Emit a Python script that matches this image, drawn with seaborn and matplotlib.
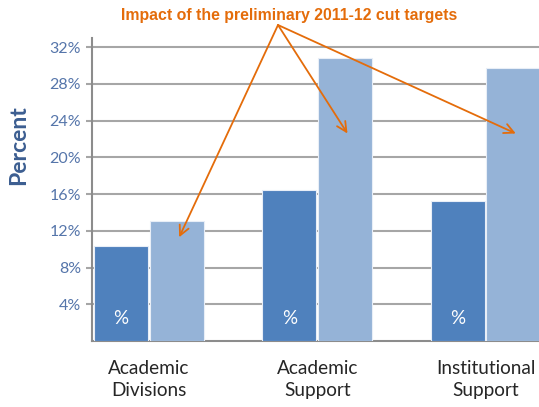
import pandas as pd
import numpy as np
import matplotlib
matplotlib.use("Agg")
import matplotlib.pyplot as plt
import seaborn as sns

# ==========================================
# DATA
# ==========================================

areas = ["Academic\nDivisions", "Academic\nSupport", "Institutional\nSupport"]
series = ["Current share", "Preliminary 2011-12 cut target"]
current_pct = [10.4, 16.4, 15.2]
target_pct = [13.1, 30.8, 29.7]

y_ticks = [4, 8, 12, 16, 20, 24, 28, 32]
y_tick_labels = ["4%", "8%", "12%", "16%", "20%", "24%", "28%", "32%"]

# arrow tip heights (percent) for the annotation
arrow_tip_pct = [11.3, 22.6, 22.6]

df = pd.DataFrame({
    "area": areas * 2,
    "series": [series[0]] * 3 + [series[1]] * 3,
    "pct": current_pct + target_pct
})

# ==========================================
# STYLE
# ==========================================

sns.set_style("white")
plt.rcParams["font.family"] = ["Lato", "DejaVu Sans"]

dark_blue = "#4F81BD"
light_blue = "#95B3D7"
orange = "#E46C0A"
grid_grey = "#A6A6A6"

# ==========================================
# PLOT
# ==========================================

fig = plt.figure(figsize=(5.39, 4.07), dpi=100)
ax = fig.add_axes([92 / 539, 66 / 407, 447 / 539, 303 / 407])

sns.barplot(
    data=df,
    x="area",
    y="pct",
    hue="series",
    palette=[dark_blue, light_blue],
    saturation=1,
    width=0.66,
    gap=0.03,
    edgecolor="#E8EEF7",
    linewidth=0.8,
    legend=False,
    ax=ax,
    zorder=3
)

ax.set_ylim(0, 33)
ax.set_xlim(-0.338, 2.318)

ax.set_yticks(y_ticks)
ax.set_yticklabels(y_tick_labels)
ax.yaxis.grid(True, color=grid_grey, linewidth=1.5, zorder=0)
ax.set_axisbelow(True)

for side in ["top", "right"]:
    ax.spines[side].set_visible(False)
ax.spines["left"].set_color("#8C8C8C")
ax.spines["left"].set_linewidth(1.5)
ax.spines["bottom"].set_color("#8C8C8C")
ax.spines["bottom"].set_linewidth(1.5)

ax.tick_params(axis="y", length=4, width=1.5, color=grid_grey,
               labelsize=11.5, labelcolor="#5575AA", pad=4, left=True)
ax.tick_params(axis="x", length=0, labelsize=13.7, labelcolor="#262626", pad=14)
for lbl in ax.get_xticklabels():
    lbl.set_linespacing(1.3)

ax.set_xlabel("")
ax.set_ylabel("Percent", fontsize=16.5, fontweight="bold", color="#3C5E91")
ax.yaxis.set_label_coords(-0.14, 0.647)

# "%" markers in the dark bars
for patch in ax.containers[0]:
    ax.text(patch.get_x() + patch.get_width() / 2, 2.5, "%",
            ha="center", va="center", color="white", fontsize=13.5, zorder=5)

# ==========================================
# TITLE + ARROWS
# ==========================================

fig.text(0.537, 0.963, "Impact of the preliminary 2011-12 cut targets",
         ha="center", va="center", color=orange, fontsize=11.4,
         fontweight="bold", family=["Liberation Sans", "DejaVu Sans"])

src = (278 / 539, 1 - 25 / 407)
for patch, tip in zip(ax.containers[1], arrow_tip_pct):
    ax.annotate(
        "",
        xy=(patch.get_x() + patch.get_width() / 2 + 0.015, tip),
        xycoords="data",
        xytext=src,
        textcoords="figure fraction",
        arrowprops=dict(arrowstyle="->,head_length=0.7,head_width=0.35",
                        color=orange, lw=1.3, shrinkA=0, shrinkB=0),
        annotation_clip=False,
        zorder=6
    )

fig.savefig("out.png", dpi=100)
